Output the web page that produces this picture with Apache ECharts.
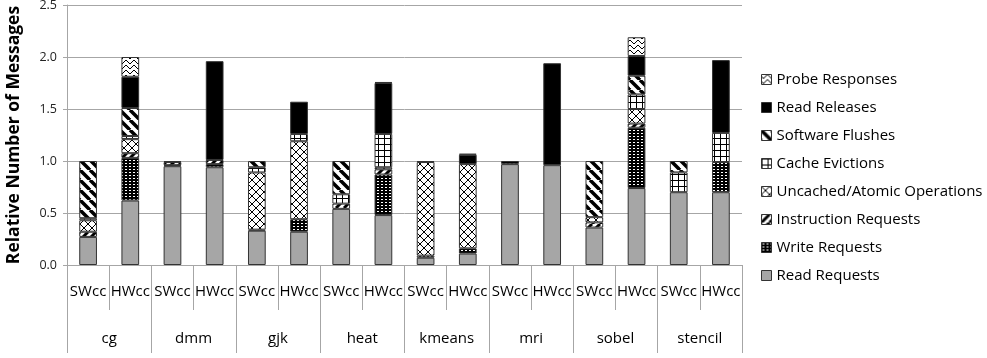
<!DOCTYPE html>
<html>
<head>
<meta charset="utf-8">
<script src="https://cdn.jsdelivr.net/npm/echarts@6/dist/echarts.min.js"></script>
<style>
html,body{margin:0;padding:0;background:#fff;}
#chart{width:987px;height:358px;}
</style>
</head>
<body>
<div id="chart"></div>
<script>
// ---- data ----
const groups = ['cg','dmm','gjk','heat','kmeans','mri','sobel','stencil'];
const configs = ['SWcc','HWcc'];
const yTicks = [0.0, 0.5, 1.0, 1.5, 2.0, 2.5];
// order: cg-SW, cg-HW, dmm-SW, dmm-HW, gjk-SW, gjk-HW, heat-SW, heat-HW, kmeans-SW, kmeans-HW, mri-SW, mri-HW, sobel-SW, sobel-HW, stencil-SW, stencil-HW
const readRequests        = [0.27,0.62, 0.95,0.94, 0.33,0.32, 0.54,0.48, 0.07,0.11, 0.97,0.96, 0.36,0.74, 0.70,0.70];
const writeRequests       = [0.00,0.41, 0.01,0.03, 0.01,0.12, 0.00,0.39, 0.02,0.05, 0.03,0.00, 0.00,0.58, 0.00,0.29];
const instructionRequests = [0.05,0.045,0.03,0.04, 0.00,0.00, 0.05,0.05, 0.00,0.00, 0.00,0.00, 0.05,0.04, 0.00,0.00];
const uncachedAtomic      = [0.11,0.135,0.01,0.00, 0.55,0.75, 0.00,0.02, 0.90,0.81, 0.00,0.00, 0.05,0.14, 0.00,0.00];
const cacheEvictions      = [0.02,0.03, 0.00,0.00, 0.05,0.07, 0.09,0.32, 0.00,0.00, 0.00,0.00, 0.00,0.14, 0.19,0.28];
const softwareFlushes     = [0.55,0.27, 0.00,0.00, 0.06,0.00, 0.32,0.00, 0.01,0.00, 0.00,0.00, 0.54,0.18, 0.11,0.00];
const readReleases        = [0.00,0.30, 0.00,0.95, 0.00,0.31, 0.00,0.49, 0.00,0.09, 0.00,0.98, 0.00,0.19, 0.00,0.70];
const probeResponses      = [0.00,0.19, 0.00,0.00, 0.00,0.00, 0.00,0.01, 0.00,0.01, 0.00,0.00, 0.00,0.18, 0.00,0.00];

const seriesNames = ['Read Requests','Write Requests','Instruction Requests','Uncached/Atomic Operations','Cache Evictions','Software Flushes','Read Releases','Probe Responses'];
const seriesValues = [readRequests, writeRequests, instructionRequests, uncachedAtomic, cacheEvictions, softwareFlushes, readReleases, probeResponses];

// ---- patterns ----
function tile(w, h, draw) {
  const c = document.createElement('canvas');
  c.width = w; c.height = h;
  const g = c.getContext('2d');
  draw(g, w, h);
  return { image: c, repeat: 'repeat' };
}
const wave = [2,3,3,2,1,0,0,1];
const patterns = [
  '#a6a6a6',
  tile(4, 3, (g) => { g.fillStyle = '#000'; g.fillRect(0,0,4,3); g.fillStyle = '#fff'; g.fillRect(1,1,2,1); }),
  tile(8, 8, (g) => { g.fillStyle='#fff'; g.fillRect(0,0,8,8); g.strokeStyle='#000'; g.lineWidth=3;
      for (let k=-8;k<=16;k+=8){ g.beginPath(); g.moveTo(k,8); g.lineTo(k+8,0); g.stroke(); } }),
  tile(8, 8, (g) => { g.fillStyle='#fff'; g.fillRect(0,0,8,8); g.strokeStyle='#000'; g.lineWidth=1;
      g.beginPath(); g.moveTo(0,0); g.lineTo(8,8); g.moveTo(8,0); g.lineTo(0,8); g.stroke(); }),
  tile(6, 6, (g) => { g.fillStyle='#fff'; g.fillRect(0,0,6,6); g.fillStyle='#000'; g.fillRect(0,0,6,1); g.fillRect(0,0,1,6); }),
  tile(10, 10, (g) => { g.fillStyle='#fff'; g.fillRect(0,0,10,10); g.strokeStyle='#000'; g.lineWidth=3.5;
      for (let k=-10;k<=20;k+=10){ g.beginPath(); g.moveTo(k,0); g.lineTo(k+10,10); g.stroke(); } }),
  '#000000',
  tile(8, 5, (g) => { g.fillStyle='#fff'; g.fillRect(0,0,8,5); g.fillStyle='#000';
      for (let x=0;x<8;x++) g.fillRect(x, wave[x], 1, 1); })
];

const categories = [];
groups.forEach(() => configs.forEach(c => categories.push(c)));

const series = seriesNames.map((name, i) => ({
  name,
  type: 'bar',
  stack: 'total',
  barWidth: '42%',
  xAxisIndex: 0,
  data: seriesValues[i].map(v => v === 0 ? '-' : v),
  itemStyle: { color: patterns[i], borderColor: '#333', borderWidth: 1 },
  emphasis: { disabled: true }
}));

const FONT = 'Open Sans';
const chart = echarts.init(document.getElementById('chart'), null, { renderer: 'canvas' });
chart.setOption({
  animation: false,
  backgroundColor: '#fff',
  grid: { left: 67, right: 245, top: 5, bottom: 93, containLabel: false, outerBoundsMode: 'none' },
  legend: {
    orient: 'vertical',
    left: 756, top: 67,
    icon: 'rect',
    itemWidth: 10, itemHeight: 10, itemGap: 13,
    data: seriesNames.slice().reverse(),
    textStyle: { fontFamily: FONT, fontSize: 15, color: '#000' },
    itemStyle: { borderColor: '#333', borderWidth: 1 }
  },
  xAxis: [
    {
      type: 'category', data: categories, position: 'bottom',
      axisLine: { show: true, lineStyle: { color: '#a6a6a6' } },
      axisTick: { show: true, interval: 0, length: 45, lineStyle: { color: '#a6a6a6' } },
      axisLabel: { interval: 0, margin: 19, fontFamily: FONT, fontSize: 15, color: '#000' }
    },
    {
      type: 'category', data: groups, position: 'bottom',
      axisLine: { show: false },
      axisTick: { show: true, interval: 0, length: 88, lineStyle: { color: '#a6a6a6' } },
      axisLabel: { interval: 0, margin: 66, fontFamily: FONT, fontSize: 15, color: '#000' }
    }
  ],
  yAxis: {
    type: 'value', min: yTicks[0], max: yTicks[yTicks.length-1], interval: 0.5,
    name: 'Relative Number of Messages', nameLocation: 'middle', nameGap: 44,
    nameTextStyle: { fontFamily: FONT, fontSize: 17.5, fontWeight: 'bold', color: '#000' },
    axisLine: { show: true, lineStyle: { color: '#a6a6a6' } },
    axisTick: { show: true, length: 4, lineStyle: { color: '#a6a6a6' } },
    splitLine: { show: true, lineStyle: { color: '#a6a6a6' } },
    axisLabel: { formatter: v => v.toFixed(1), fontFamily: FONT, fontSize: 12.5, color: '#222', margin: 10 }
  },
  series
});
</script>
</body>
</html>
